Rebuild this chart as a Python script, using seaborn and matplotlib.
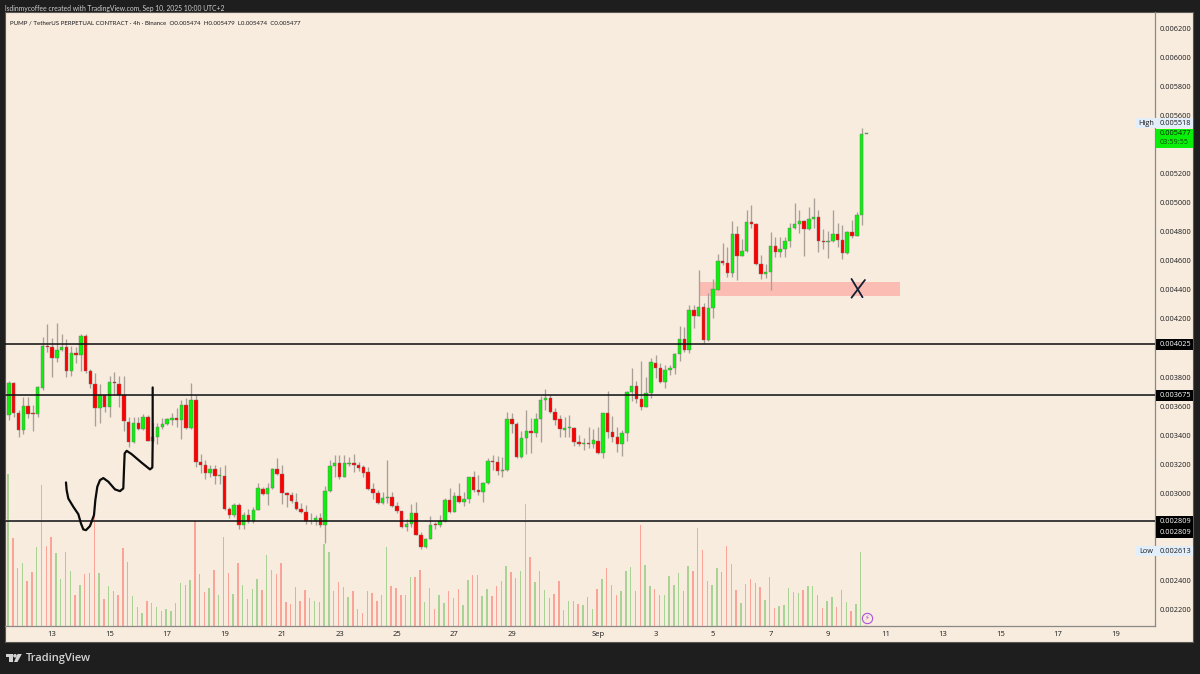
import numpy as np
import matplotlib
matplotlib.use("Agg")
import matplotlib.pyplot as plt
from matplotlib.patches import Rectangle, Polygon, Ellipse
import seaborn as sns

# OHLC in millionths of USDT, 4h candles
open_px = [3535,3756,3554,3434,3600,3549,3544,3726,4014,4004,
    3933,3986,4004,3843,3963,3954,4085,3841,3754,3584,
    3676,3595,3768,3754,3673,3491,3351,3480,3439,3526,
    3360,3388,3452,3478,3501,3514,3501,3604,3448,3641,
    3213,3192,3140,3163,3117,3117,2887,2848,2914,2778,
    2848,2808,2882,3029,2990,3032,3163,3133,2997,2985,
    2940,2887,2866,2808,2806,2831,2776,3011,3186,3209,
    3112,3199,3204,3195,3176,3142,3029,3002,2933,2969,
    2972,2912,2875,2767,2788,2859,2710,2629,2680,2783,
    2781,2808,2949,2868,2981,2940,2956,3107,3022,3006,
    3066,3220,3215,3149,3156,3508,3475,3245,3379,3427,
    3413,3510,3641,3657,3556,3508,3436,3446,3448,3351,
    3340,3342,3340,3361,3278,3549,3423,3386,3337,3411,
    3696,3735,3648,3595,3692,3899,3860,3763,3850,3860,
    3958,4064,3988,4262,4223,4285,4055,4276,4400,4602,
    4589,4515,4786,4637,4667,4872,4855,4579,4513,4524,
    4701,4662,4681,4736,4825,4855,4874,4821,4888,4906,
    4738,4733,4740,4786,4745,4653,4803,4775,4919,5474]
close_px = [3756,3554,3434,3600,3544,3544,3728,4014,4009,3933,
    3986,4004,3843,3963,3954,4085,3841,3754,3584,3676,
    3595,3768,3756,3673,3496,3351,3480,3439,3526,3360,
    3388,3452,3478,3508,3517,3501,3604,3450,3641,3216,
    3190,3140,3163,3117,3119,2887,2848,2914,2778,2848,
    2808,2882,3032,2990,3032,3163,3133,2997,2985,2944,
    2889,2866,2806,2804,2831,2776,3011,3186,3209,3112,
    3204,3204,3192,3172,3140,3029,3002,2933,2969,2972,
    2910,2875,2767,2788,2859,2710,2629,2680,2781,2781,
    2808,2949,2871,2979,2940,2956,3107,3020,3006,3066,
    3218,3215,3151,3156,3508,3475,3245,3379,3427,3413,
    3510,3641,3657,3556,3505,3439,3448,3450,3351,3337,
    3342,3340,3363,3278,3549,3423,3386,3337,3411,3696,
    3735,3648,3595,3692,3901,3860,3768,3850,3862,3958,
    4064,3988,4262,4223,4285,4055,4276,4405,4602,4589,
    4515,4786,4635,4667,4872,4855,4579,4510,4524,4701,
    4665,4681,4736,4825,4855,4874,4821,4888,4906,4738,
    4733,4738,4786,4745,4653,4803,4775,4920,5474,5477]
high_px = [3774,3767,3572,3659,3659,3606,3738,4073,4165,4066,
    4170,4096,4060,4014,4009,4096,4096,3853,3825,3751,
    3676,3807,3836,3807,3807,3521,3526,3521,3544,3537,
    3480,3480,3514,3514,3549,3583,3641,3652,3756,3676,
    3268,3227,3192,3192,3176,3190,2905,2928,2928,2871,
    2887,2905,3066,3043,3066,3170,3238,3192,3008,3008,
    3003,2928,2917,2859,2848,2859,3048,3227,3261,3261,
    3261,3245,3268,3215,3192,3176,3071,3020,3008,3227,
    3008,2939,2875,2818,2923,2939,2733,2693,2841,2801,
    2848,2969,3038,3008,3066,3008,3112,3153,3124,3078,
    3239,3261,3254,3245,3556,3549,3491,3429,3572,3514,
    3549,3671,3717,3675,3583,3537,3526,3537,3452,3399,
    3377,3457,3439,3452,3549,3705,3533,3452,3434,3705,
    3864,3774,3910,3797,3933,3952,3894,3883,3883,3968,
    4152,4142,4297,4297,4538,4308,4377,4474,4648,4727,
    4699,4878,4842,4750,4952,4987,4860,4641,4579,4798,
    4768,4763,4768,4860,5003,4952,4883,4975,5032,4952,
    4819,4809,4952,4865,4849,4809,4883,4940,5518,5479]
low_px = [3503,3526,3388,3406,3514,3429,3521,3710,3974,3797,
    3906,3981,3797,3807,3894,3843,3830,3721,3462,3485,
    3560,3521,3676,3595,3429,3314,3347,3434,3434,3356,
    3351,3337,3439,3469,3469,3452,3372,3439,3443,3181,
    3135,3100,3112,3061,3061,2882,2831,2836,2749,2755,
    2790,2790,2882,2985,2917,3025,3124,2923,2905,2928,
    2882,2859,2785,2785,2779,2767,2652,3006,3112,3100,
    3112,3186,3146,3153,3112,3020,2956,2923,2923,2933,
    2905,2864,2762,2739,2767,2710,2611,2624,2680,2755,
    2767,2801,2864,2868,2928,2910,2933,3008,2985,2940,
    3061,3158,3124,3112,3153,3411,3241,3241,3268,3273,
    3383,3354,3572,3549,3469,3388,3383,3383,3324,3324,
    3296,3307,3307,3268,3239,3377,3354,3285,3255,3360,
    3636,3618,3572,3595,3652,3790,3756,3722,3814,3820,
    3912,3974,3963,4136,4221,4037,4050,4205,4400,4572,
    4487,4487,4469,4635,4662,4826,4572,4474,4481,4400,
    4630,4630,4630,4699,4819,4791,4637,4814,4826,4665,
    4681,4623,4733,4699,4612,4648,4761,4773,4847,5474]
volume = [152,88,58,63,45,54,79,141,80,89,
    73,47,74,55,31,41,52,53,112,53,
    27,40,35,31,78,64,30,19,13,25,
    23,19,15,17,15,23,43,41,46,105,
    52,34,38,56,31,89,53,32,63,41,
    27,37,47,36,71,56,52,63,24,22,
    39,25,36,28,25,24,82,74,35,44,
    39,29,35,17,13,35,33,25,31,79,
    40,38,31,31,49,49,56,24,38,17,
    31,23,35,28,37,21,46,51,51,30,
    37,30,40,45,60,54,48,55,122,69,
    44,55,36,28,32,45,16,25,25,22,
    21,29,17,37,47,58,41,31,35,55,
    59,35,101,61,40,37,31,31,50,41,
    53,35,60,55,98,76,45,41,58,54,
    80,62,36,23,42,47,43,39,26,49,
    18,20,21,38,34,33,36,40,40,31,
    18,25,29,19,36,24,15,22,74,1]

# Levels drawn on the chart
levels = [0.004025, 0.003675, 0.002809]
zone_low, zone_high = 0.004359, 0.004453
zone_start, zone_end = 144.1, 186.0

# Axis labels
price_ticks = [6200,6000,5800,5600,5200,5000,4800,4600,4400,4200,3800,3600,3400,3200,3000,2400,2200]
day_ticks = [13,15,17,19,21,23,25,27,29,32,34,36,38,40,42,44,46,48,50]
day_labels = ["13","15","17","19","21","23","25","27","29","Sep","3","5","7","9","11","13","15","17","19"]

# Hand drawn marks (bar number, price in millionths)
scribble_x = [11.9,12.04,12.39,13.43,14.48,15.03,15.52,16.08,16.91,17.75,18.03,18.44,19.0,19.7,
              20.74,22.13,23.18,23.87,24.01,24.15,24.57,25.61,27.7,29.44,29.93,30.0,30.0]
scribble_y = [3073,3020,2962,2905,2854,2790,2749,2744,2772,2848,2951,3043,3089,3103,
              3078,3025,3013,3032,3158,3273,3291,3268,3209,3163,3176,3342,3728]

# Colors
DARK = "#1e1e1e"
PANEL = "#f8ecdf"
GREEN = "#0cf00c"
RED = "#ff0000"
VOL_GREEN = "#a9d394"
VOL_RED = "#fca398"
WICK = "#a89f97"
AXIS = "#8c8885"
TEXT = "#1c1c1c"
BLUE_TAG = "#e3eefb"

W, H = 1200, 674
X_MIN, X_MAX = -0.83, 239.26


def rect_fig(x0, y0, x1, y1):
    # pixel box from the top left corner -> figure fractions
    return [x0 / W, 1 - y1 / H, (x1 - x0) / W, (y1 - y0) / H]


sns.set_theme(style="white")
plt.rcParams["font.family"] = ["Open Sans", "DejaVu Sans"]

bars = np.arange(len(open_px))
o = np.array(open_px) * 1e-6
c = np.array(close_px) * 1e-6
h = np.array(high_px) * 1e-6
l = np.array(low_px) * 1e-6
rising = c >= o

fig = plt.figure(figsize=(W / 100, H / 100), dpi=100, facecolor=DARK)

# panel behind everything, price axis and date band included
panel = fig.add_axes(rect_fig(5, 12, 1192.5, 641.5), facecolor=PANEL, zorder=0)
panel.set_xticks([])
panel.set_yticks([])
for s in panel.spines.values():
    s.set_color("#5a5654")
    s.set_linewidth(0.8)

# Volume -----------------------------------------------------------
ax_vol = fig.add_axes(rect_fig(5, 12, 1155, 625.7), zorder=1)
ax_vol.patch.set_alpha(0)
sns.barplot(x=bars, y=volume, hue=np.where(rising, "up", "down"),
            palette={"up": VOL_GREEN, "down": VOL_RED}, native_scale=True,
            dodge=False, width=0.3, linewidth=0, saturation=1, legend=False, ax=ax_vol)
ax_vol.set_xlim(X_MIN + 0.2, X_MAX + 0.2)
ax_vol.set_ylim(0, 613.7)
ax_vol.set_axis_off()

# Candles ----------------------------------------------------------
ax = fig.add_axes(rect_fig(5, 12, 1155, 625.7), zorder=2)
ax.patch.set_alpha(0)
ax.add_patch(Rectangle((zone_start, zone_low), zone_end - zone_start, zone_high - zone_low,
                       facecolor="#fbbdb3", edgecolor="none", zorder=1))
for lev in levels[1:]:
    ax.axhline(lev + 0.000007, color="white", lw=1.0, alpha=0.8, zorder=1.5)
ax.vlines(bars, l, h, color=WICK, lw=0.95, zorder=2)
body_bottom = np.minimum(o, c)
body_height = np.maximum(np.abs(c - o), 0.000006)
ax.bar(bars, body_height, bottom=body_bottom, width=0.72,
       color=np.where(rising, GREEN, RED), edgecolor="#77726e", linewidth=0.3, zorder=3)
for lev in levels:
    ax.axhline(lev, color="#141414", lw=1.15, zorder=4)

# scribble and cross
ax.plot(scribble_x, np.array(scribble_y) * 1e-6, color="#0b0b0b", lw=1.6, zorder=5,
        solid_joinstyle="round", solid_capstyle="round")
ax.plot([175.9, 178.2], [0.004476, 0.00435], color="#141e32", lw=1.3, zorder=5)
ax.plot([178.7, 175.9], [0.004469, 0.004347], color="#141e32", lw=1.3, zorder=5)

ax.set_xlim(X_MIN, X_MAX)
ax.set_ylim(0.002085, 0.006317)

ax.yaxis.tick_right()
ax.set_yticks(np.array(price_ticks) * 1e-6)
ax.set_yticklabels([f"{p * 1e-6:.6f}" for p in price_ticks], fontsize=5.3, color=TEXT)
ax.set_xticks([(d - 13) * 6 + 9.0 for d in day_ticks])
ax.set_xticklabels(day_labels, fontsize=5.5, color=TEXT)
ax.tick_params(axis="y", length=0, pad=3.6)
ax.tick_params(axis="x", length=0, pad=3.8)
ax.spines["top"].set_visible(False)
ax.spines["left"].set_visible(False)
ax.spines["right"].set_color(AXIS)
ax.spines["bottom"].set_color(AXIS)
ax.spines["right"].set_linewidth(0.9)
ax.spines["bottom"].set_linewidth(0.9)

# lightning marker near the last bar
ax.plot([179.1], [0.002138], marker="o", ms=7.4, mfc=PANEL, mec="#b152d6", mew=0.8, zorder=6)
ax.text(179.1, 0.002138, "\u26a1", color="#b152d6", fontsize=4.8, ha="center", va="center", zorder=7,
        family=["DejaVu Sans"])


# Text and tags in pixel positions ------------------------------------
def ftext(x, y, s, **kw):
    kw.setdefault("va", "center")
    kw.setdefault("fontsize", 5.3)
    kw.setdefault("color", TEXT)
    fig.text(x / W, 1 - y / H, s, zorder=11, **kw)


def fbox(x0, y0, x1, y1, color):
    fig.add_artist(Rectangle((x0 / W, 1 - y1 / H), (x1 - x0) / W, (y1 - y0) / H, facecolor=color,
                             edgecolor="none", transform=fig.transFigure, zorder=10))


ftext(5, 8.6, "lsdinmycoffee created with TradingView.com, Sep 10, 2025 10:00 UTC+2", color="#d0d0d0",
      fontsize=4.85, family="Lato")
ftext(10, 22.8, "PUMP / TetherUS PERPETUAL CONTRACT \u00b7 4h \u00b7 Binance  O0.005474  H0.005479  L0.005474  C0.005477",
      fontsize=4.4, family="Lato")

fbox(1136, 118, 1192.5, 127.5, BLUE_TAG)
ftext(1138, 123.2, "High")
ftext(1160, 123.2, "0.005518")
fbox(1155.5, 128.7, 1192.5, 147.5, "#0aef0a")
ftext(1160, 133.6, "0.005477", color="#082008")
ftext(1160, 142.6, "03:59:55", color="#0a4a0a")
fbox(1155.5, 338.5, 1192.5, 349.5, "black")
ftext(1160, 344.4, "0.004025", color="white")
fbox(1155.5, 389.5, 1192.5, 400.5, "black")
ftext(1160, 395.4, "0.003675", color="white")
fbox(1155.5, 515.7, 1192.5, 537.5, "black")
ftext(1160, 521.4, "0.002809", color="white")
ftext(1160, 532.4, "0.002809", color="white")
fbox(1136, 546, 1192.5, 555.5, BLUE_TAG)
ftext(1139, 551.2, "Low")
ftext(1160, 551.2, "0.002613")

# TradingView footer
logo = "#d4d4d4"
fbox(6, 654, 12.6, 657.4, logo)
fbox(9.2, 654, 12.6, 662, logo)
fig.add_artist(Polygon([(17.6 / W, 1 - 654 / H), (21.8 / W, 1 - 654 / H), (17.4 / W, 1 - 662 / H), (14 / W, 1 - 662 / H)],
                       closed=True, facecolor=logo, edgecolor="none", transform=fig.transFigure, zorder=10))
fig.add_artist(Ellipse((15 / W, 1 - 655.8 / H), 3.6 / W, 3.6 / H, facecolor=logo, edgecolor="none",
                       transform=fig.transFigure, zorder=10))
ftext(26, 658.2, "TradingView", color=logo, fontsize=8.0, fontweight="semibold")

fig.savefig("out.png", dpi=100, facecolor=DARK)
